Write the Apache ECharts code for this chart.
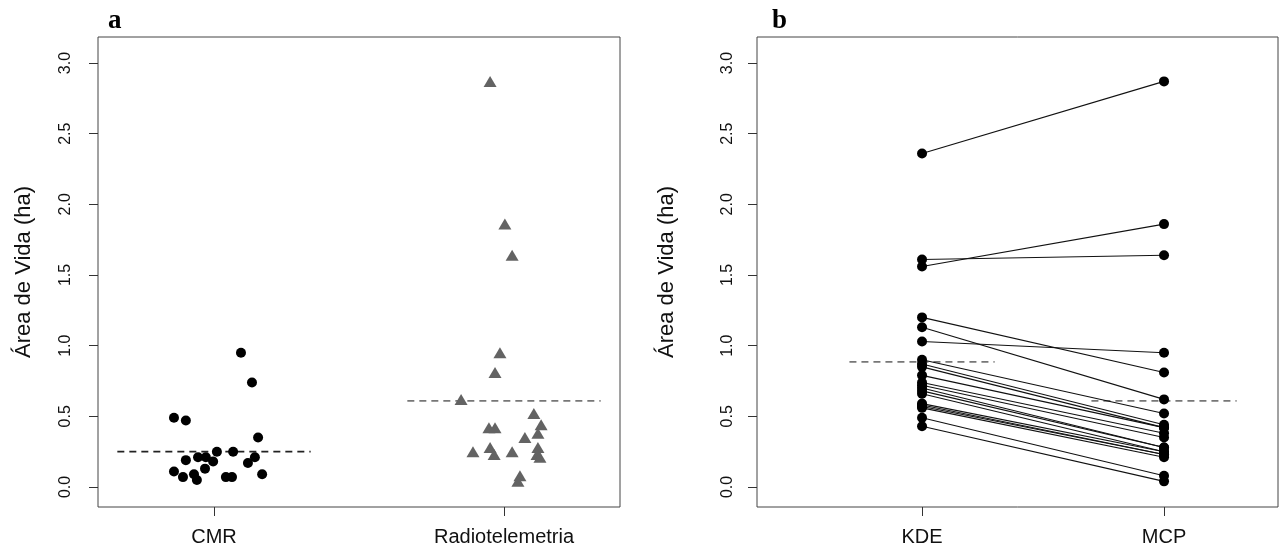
<!DOCTYPE html>
<html>
<head>
<meta charset="utf-8">
<title>Área de Vida</title>
<script src="https://cdn.jsdelivr.net/npm/echarts@6/dist/echarts.min.js"></script>
<style>
  html, body { margin: 0; background: #fff; }
  #main { width: 1282px; height: 552px; }
</style>
</head>
<body>
<div id="main"></div>
<script type="text/javascript">
    // panel a: CMR (circles) and radiotelemetry (triangles), x = 1 / 2 plus jitter
    var groupsA = ['CMR', 'Radiotelemetria'];
    var groupsB = ['KDE', 'MCP'];
    var yTicks = [0, 0.5, 1.0, 1.5, 2.0, 2.5, 3.0];

    var cmrVals   = [0.74, 0.49, 0.47, 0.35, 0.25, 0.25, 0.21, 0.19, 0.18, 0.21, 0.17, 0.13, 0.11, 0.07, 0.09, 0.05, 0.07, 0.07, 0.09, 0.21, 0.95];
    var cmrJitter = [0.131, -0.138, -0.097, 0.152, 0.010, 0.066, -0.055, -0.097, -0.003, 0.141, 0.117, -0.031, -0.138, -0.107, -0.069, -0.059, 0.041, 0.062, 0.166, -0.028, 0.093];

    var radioVals   = [2.87, 1.86, 1.64, 0.95, 0.81, 0.62, 0.52, 0.42, 0.42, 0.44, 0.38, 0.35, 0.28, 0.28, 0.25, 0.23, 0.25, 0.23, 0.21, 0.08, 0.04];
    var radioJitter = [-0.048, 0.003, 0.028, -0.014, -0.031, -0.148, 0.103, -0.052, -0.031, 0.128, 0.117, 0.072, 0.117, -0.048, -0.107, -0.034, 0.028, 0.114, 0.124, 0.055, 0.048];

    // panel b: KDE of the same animals (MCP = radioVals)
    var kdeVals = [2.36, 1.56, 1.61, 1.03, 1.20, 1.13, 0.90, 0.85, 0.79, 0.87, 0.74, 0.72, 0.70, 0.68, 0.66, 0.58, 0.59, 0.57, 0.56, 0.49, 0.43];

    // dashed mean lines
    var meansA = [0.25, 0.61];
    var meansB = [0.885, 0.61];

    var myChart = echarts.init(document.getElementById('main'));
    var FONT = '"Liberation Sans", Arial, sans-serif';

    function xAxisFor(idx, min, max, names) {
        return {
            gridIndex: idx, type: 'value', min: min, max: max,
            splitLine: { show: false },
            axisLine: { show: false, onZero: false },
            axisTick: { customValues: [1, 2], length: 9, lineStyle: { color: '#333' } },
            axisLabel: {
                customValues: [1, 2], margin: 20, fontSize: 20, color: '#111', fontFamily: FONT,
                formatter: function (v) { return names[Math.round(v) - 1]; }
            }
        };
    }
    function yAxisFor(idx, labelMargin, gap) {
        return {
            gridIndex: idx, type: 'value', min: -0.1415, max: 3.184,
            splitLine: { show: false },
            axisLine: { show: false, onZero: false },
            axisTick: { customValues: yTicks, length: 9, lineStyle: { color: '#333' } },
            axisLabel: {
                customValues: yTicks, rotate: 90, margin: labelMargin, fontSize: 16, color: '#111', fontFamily: FONT,
                formatter: function (v) { return v.toFixed(1); }
            },
            name: 'Área de Vida (ha)', nameLocation: 'middle', nameRotate: 90, nameGap: gap,
            nameTextStyle: { fontSize: 22, color: '#111', fontFamily: FONT }
        };
    }

    function meanSeg(xi, x, half, v, color) {
        return {
            type: 'line', xAxisIndex: xi, yAxisIndex: xi, symbol: 'none', silent: true, z: 1,
            data: [[x - half, v], [x + half, v]],
            lineStyle: { color: color, width: 1.7, type: [7, 5] }
        };
    }

    var series = [];
    series.push(meanSeg(0, 1, 1 / 3, meansA[0], '#222'));
    series.push(meanSeg(0, 2, 1 / 3, meansA[1], '#777'));
    series.push({
        type: 'scatter', xAxisIndex: 0, yAxisIndex: 0, symbol: 'circle', symbolSize: 10, z: 3,
        itemStyle: { color: '#000', opacity: 1 },
        data: cmrVals.map(function (v, i) { return [1 + cmrJitter[i], v]; })
    });
    series.push({
        type: 'scatter', xAxisIndex: 0, yAxisIndex: 0, symbol: 'triangle', symbolSize: [13, 11], z: 3,
        itemStyle: { color: '#636363', opacity: 1 },
        data: radioVals.map(function (v, i) { return [2 + radioJitter[i], v]; })
    });

    series.push(meanSeg(1, 1, 0.3, meansB[0], '#777'));
    series.push(meanSeg(1, 2, 0.3, meansB[1], '#777'));
    kdeVals.forEach(function (k, i) {
        series.push({
            type: 'line', xAxisIndex: 1, yAxisIndex: 1, symbol: 'none', silent: true, z: 2,
            data: [[1, k], [2, radioVals[i]]],
            lineStyle: { color: '#111', width: 1.1 }
        });
    });
    series.push({
        type: 'scatter', xAxisIndex: 1, yAxisIndex: 1, symbolSize: 10, z: 3,
        itemStyle: { color: '#000', opacity: 1 },
        data: kdeVals.map(function (k) { return [1, k]; })
    });
    series.push({
        type: 'scatter', xAxisIndex: 1, yAxisIndex: 1, symbolSize: 10, z: 3,
        itemStyle: { color: '#000', opacity: 1 },
        data: radioVals.map(function (m) { return [2, m]; })
    });

    var option = {
        animation: false,
        grid: [
            { left: 98, top: 37, width: 522, height: 470, show: true, borderColor: '#444', borderWidth: 1 },
            { left: 757, top: 37, width: 521, height: 470, show: true, borderColor: '#444', borderWidth: 1 }
        ],
        xAxis: [xAxisFor(0, 0.6, 2.4, groupsA), xAxisFor(1, 0.318, 2.471, groupsB)],
        yAxis: [yAxisFor(0, 24, 63), yAxisFor(1, 21, 79)],
        graphic: [
            { type: 'text', left: 108, top: 8, style: { text: 'a', font: 'bold 27px "Liberation Serif", serif', fill: '#000' } },
            { type: 'text', left: 772, top: 8, style: { text: 'b', font: 'bold 27px "Liberation Serif", serif', fill: '#000' } }
        ],
        series: series
    };
    myChart.setOption(option);
</script>
</body>
</html>
